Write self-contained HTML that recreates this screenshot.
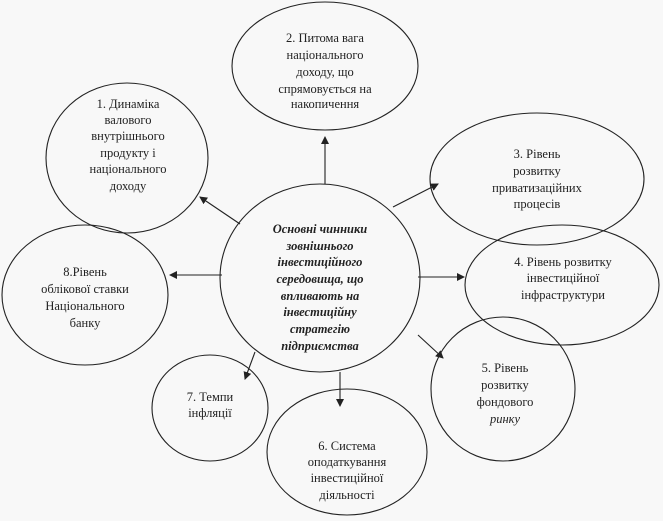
<!DOCTYPE html>
<html><head><meta charset="utf-8"><style>
body{margin:0;background:#f8f8f8;}
svg{display:block}
text{font-family:"Liberation Serif",serif;font-size:12.5px;fill:#222;text-anchor:middle}
.b{font-weight:bold;font-style:italic}
</style></head><body>
<svg width="663" height="521" viewBox="0 0 663 521">
<defs><marker id="a" markerWidth="8" markerHeight="8" refX="7" refY="4" orient="auto" markerUnits="userSpaceOnUse"><path d="M0,0 L8,4 L0,8 z" fill="#222"/></marker></defs>
<g fill="none" stroke="#222" stroke-width="1.1">
<ellipse cx="325" cy="66" rx="93" ry="64"/>
<ellipse cx="127" cy="158" rx="81" ry="75"/>
<ellipse cx="537" cy="179" rx="107" ry="66"/>
<ellipse cx="85" cy="295" rx="83" ry="70"/>
<ellipse cx="562" cy="285" rx="97" ry="60"/>
<ellipse cx="503" cy="389" rx="72" ry="72"/>
<ellipse cx="210" cy="408" rx="58" ry="53"/>
<ellipse cx="347" cy="452" rx="80" ry="63"/>
<ellipse cx="320" cy="278" rx="100" ry="94"/>
</g>
<g stroke="#222" stroke-width="1.1" marker-end="url(#a)">
<line x1="325" y1="184" x2="325" y2="137"/>
<line x1="240" y1="224" x2="200" y2="197"/>
<line x1="393" y1="207" x2="438" y2="184"/>
<line x1="222" y1="275" x2="170" y2="275"/>
<line x1="418" y1="277" x2="464" y2="277"/>
<line x1="418" y1="335" x2="443" y2="358"/>
<line x1="255" y1="352" x2="245" y2="379"/>
<line x1="340" y1="372" x2="340" y2="406"/>
</g>
<text x="325" y="42">2. Питома вага</text>
<text x="325" y="59">національного</text>
<text x="325" y="76">доходу, що</text>
<text x="325" y="93">спрямовується на</text>
<text x="325" y="108">накопичення</text>
<text x="128" y="108">1. Динаміка</text>
<text x="128" y="124">валового</text>
<text x="128" y="140">внутрішнього</text>
<text x="128" y="157">продукту і</text>
<text x="128" y="173">національного</text>
<text x="128" y="190">доходу</text>
<text x="537" y="158">3. Рівень</text>
<text x="537" y="175">розвитку</text>
<text x="537" y="192">приватизаційних</text>
<text x="537" y="208">процесів</text>
<text class="b" x="320" y="233">Основні чинники</text>
<text class="b" x="320" y="250">зовнішнього</text>
<text class="b" x="320" y="266">інвестиційного</text>
<text class="b" x="320" y="283">середовища, що</text>
<text class="b" x="320" y="300">впливають на</text>
<text class="b" x="320" y="316">інвестиційну</text>
<text class="b" x="320" y="333">стратегію</text>
<text class="b" x="320" y="350">підприємства</text>
<text x="85" y="276">8.Рівень</text>
<text x="85" y="293">облікової ставки</text>
<text x="85" y="310">Національного</text>
<text x="85" y="327">банку</text>
<text x="563" y="266">4. Рівень розвитку</text>
<text x="563" y="282">інвестиційної</text>
<text x="563" y="299">інфраструктури</text>
<text x="505" y="372">5. Рівень</text>
<text x="505" y="389">розвитку</text>
<text x="505" y="406">фондового</text>
<text x="505" y="423" font-style="italic">ринку</text>
<text x="210" y="401">7. Темпи</text>
<text x="210" y="417">інфляції</text>
<text x="347" y="450">6. Система</text>
<text x="347" y="466">оподаткування</text>
<text x="347" y="482">інвестиційної</text>
<text x="347" y="499">діяльності</text>
</svg>
</body></html>
